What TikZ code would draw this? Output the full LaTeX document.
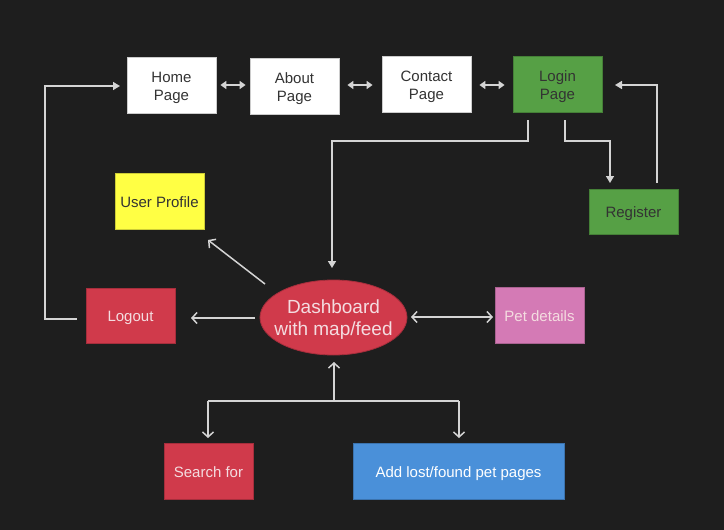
\documentclass[tikz,border=0pt]{standalone}
\usepackage{fontspec}
\setmainfont{Liberation Sans}
\usetikzlibrary{arrows.meta,shapes.geometric}
\definecolor{bg}{HTML}{1E1E1E}
\definecolor{ln}{HTML}{D4D4D4}
\definecolor{gr}{HTML}{56A045}
\definecolor{yl}{HTML}{FFFF44}
\definecolor{rd}{HTML}{D03A4B}
\definecolor{pk}{HTML}{D47AB5}
\definecolor{bl}{HTML}{4A90D9}
\definecolor{dk}{HTML}{333333}
\definecolor{lt}{HTML}{F4DCE0}
\newcommand{\lbl}[2][-2.5pt]{\raisebox{#1}[\height][\depth]{\begin{tabular}{@{}c@{}}#2\end{tabular}}}
\tikzset{
  box/.style={draw=#1!80!black, line width=0.8pt, fill=#1, minimum width=89pt, minimum height=56pt, inner sep=0pt, font=\fontsize{15}{18}\selectfont},
  conn/.style={draw=ln, line width=1.5pt},
  tri/.style={conn, -{Triangle[length=7pt,width=8pt]}},
  dtri/.style={conn, {Triangle[length=6pt,width=8pt]}-{Triangle[length=6pt,width=8pt]}},
  barb/.style={conn, -{Straight Barb[length=5pt,width=11pt,line width=1.5pt]}},
  dbarb/.style={conn, {Straight Barb[length=5pt,width=11pt,line width=1.5pt]}-{Straight Barb[length=5pt,width=11pt,line width=1.5pt]}}
}
\begin{document}
\begin{tikzpicture}[x=1pt,y=-1pt]
\fill[bg] (0,0) rectangle (724,530);
\useasboundingbox (0,0) rectangle (724,530);
% nodes
\node[box=white, text=dk] (home) at (171.5,85) {\lbl{Home\\Page}};
\node[box=white, text=dk] (about) at (294.5,86) {\lbl{About\\Page}};
\node[box=white, text=dk] (contact) at (426.5,84) {\lbl{Contact\\Page}};
\node[box=gr, text=dk] (login) at (557.5,84) {\lbl{Login\\Page}};
\node[box=gr, text=dk, minimum height=45pt] (register) at (633.5,211.5) {\lbl{Register}};
\node[box=yl, text=dk] (profile) at (159.5,201) {\lbl{User Profile}};
\node[box=rd, text=lt, minimum height=55pt] (logout) at (130.5,315.5) {\lbl{Logout}};
\node[ellipse, fill=rd, draw=rd!80!black, line width=0.8pt, minimum width=147pt, minimum height=75pt, inner xsep=-9pt, inner ysep=0pt, text=lt, font=\fontsize{19}{22}\selectfont] (dash) at (333.5,317.5) {\lbl[-3pt]{Dashboard\\with map/feed}};
\node[box=pk, text=lt] (pet) at (539.5,315) {\lbl{Pet details}};
\node[box=rd, text=lt] (search) at (208.5,471) {\lbl{Search for}};
\node[box=bl, text=white, minimum width=211pt] (add) at (458.5,471) {\lbl{Add lost/found pet pages}};
% coordinates
\coordinate (lo1) at (77,319);
\coordinate (lo2) at (45,86);
\coordinate (ho) at (120,86);
\coordinate (la) at (528,120);
\coordinate (lb) at (332,141);
\coordinate (lc) at (332,268);
\coordinate (ra) at (565,120);
\coordinate (rb) at (610,141);
\coordinate (rc) at (610,183);
\coordinate (ga) at (657,183);
\coordinate (gb) at (657,85);
\coordinate (gc) at (615,85);
\coordinate (pa) at (265,284);
\coordinate (pb) at (208,240);
\coordinate (da) at (255,318);
\coordinate (db) at (191,318);
\coordinate (ea) at (411,317);
\coordinate (eb) at (493,317);
\coordinate (ba) at (334,401);
\coordinate (bb) at (334,362);
\coordinate (bl1) at (208,401);
\coordinate (bl2) at (208,438);
\coordinate (br1) at (459,401);
\coordinate (br2) at (459,438);
% connectors
\draw[tri] (lo1) -| (lo2) -- (ho);
\draw[dtri] ([xshift=4pt]home.east) -- ([xshift=-4pt]about.west |- home.east);
\draw[dtri] ([xshift=8pt]about.east |- 0,85) -- ([xshift=-9pt]contact.west |- 0,85);
\draw[dtri] ([xshift=8pt]contact.east |- 0,85) -- ([xshift=-8pt]login.west |- 0,85);
\draw[tri] (la) |- (lb) -- (lc);
\draw[tri] (ra) |- (rb) -- (rc);
\draw[tri] (ga) -- (gb) -- (gc);
\draw[barb] (pa) -- (pb);
\draw[barb] (da) -- (db);
\draw[dbarb] (ea) -- (eb);
\draw[barb] (ba) -- (bb);
\draw[conn] (bl1) -- (br1);
\draw[barb] (bl1) -- (bl2);
\draw[barb] (br1) -- (br2);
\end{tikzpicture}
\end{document}
